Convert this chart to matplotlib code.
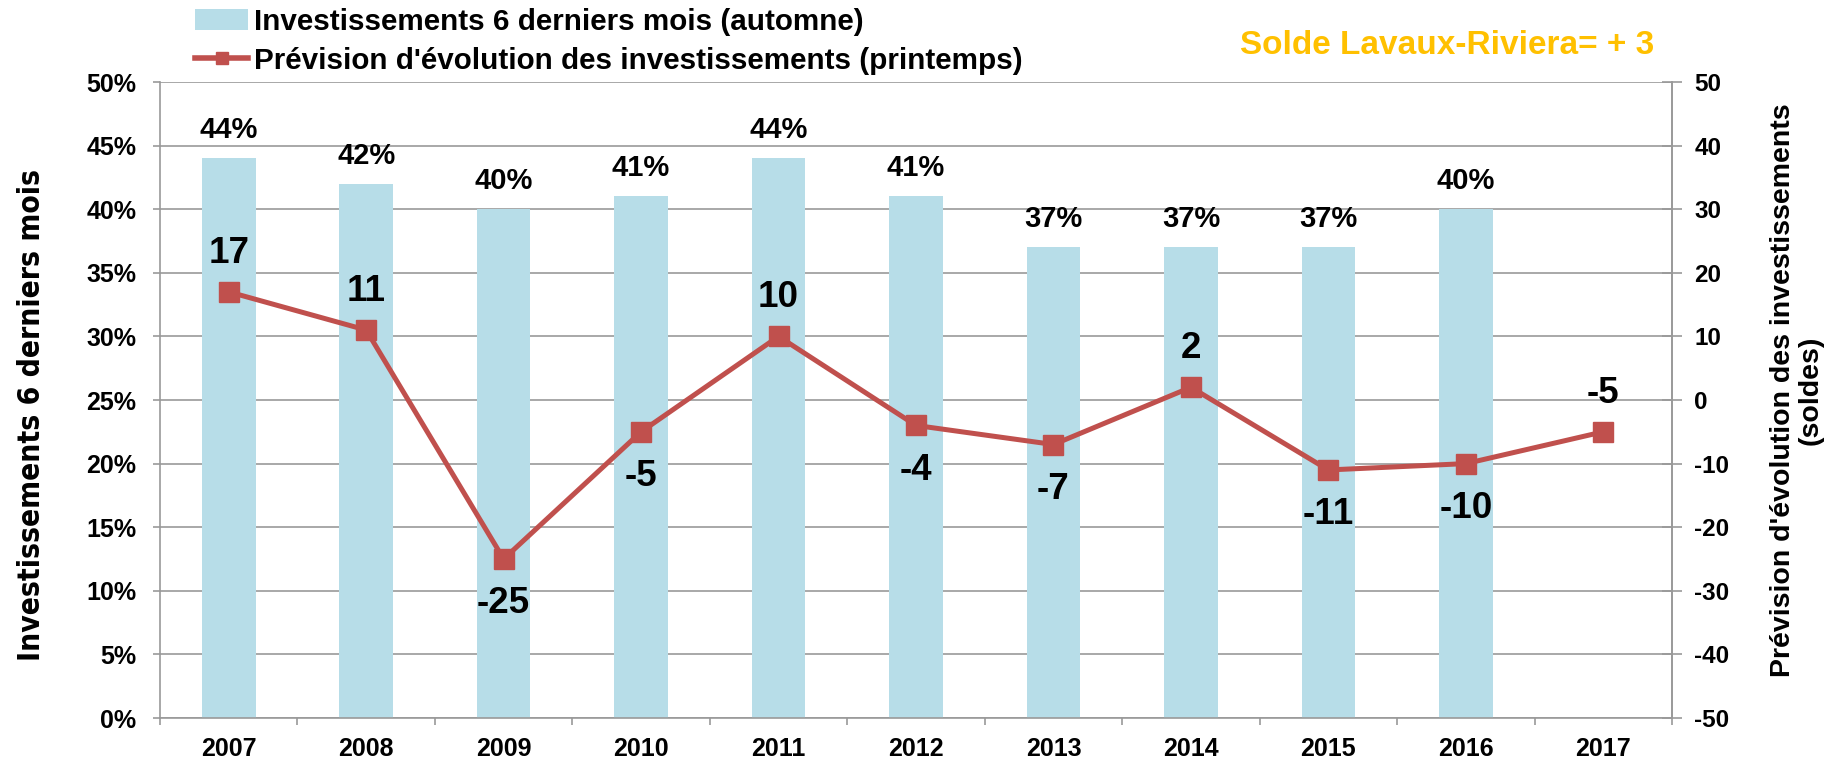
import matplotlib
matplotlib.use("Agg")
import matplotlib.pyplot as plt
from matplotlib import font_manager
from matplotlib.lines import Line2D
from matplotlib.patches import Patch
from matplotlib.ticker import FixedLocator, FuncFormatter
import numpy as np

plt.rcParams['font.family'] = ['Liberation Sans', 'DejaVu Sans']
plt.rcParams['font.weight'] = 'bold'
plt.rcParams['axes.unicode_minus'] = False

# data
years     = ['2007', '2008', '2009', '2010', '2011', '2012', '2013', '2014', '2015', '2016', '2017']
invest    = [44, 42, 40, 41, 44, 41, 37, 37, 37, 40, None]     # % (autumn)
prevision = [17, 11, -25, -5, 10, -4, -7, 2, -11, -10, -5]     # solde (spring)
lab_above = [True, True, False, False, True, False, False, True, False, False, True]

bar_color  = '#B7DDE8'
line_color = '#C0504D'
grid_color = '#999999'


def narrow_font():
    '''look for a condensed bold face (Arial Narrow look-alike)'''
    fl = font_manager.fontManager.ttflist
    for f in fl:
        if f.name in ('Liberation Sans Narrow', 'Arial Narrow') and f.weight in (700, 'bold'):
            return font_manager.FontProperties(fname=f.fname), True
    for f in fl:
        if f.stretch in ('condensed', 'semi-condensed') and f.weight in (700, 'bold') \
                and f.style == 'normal':
            return font_manager.FontProperties(fname=f.fname), False
    return None, False


nf, real_narrow = narrow_font()

W, H = 1835, 763
fig = plt.figure(figsize=(W/100, H/100), dpi=100)
ax  = fig.add_axes([160/W, 1-718/H, (1672-160)/W, (718-82)/H])

x = np.arange(len(years))

# bars
bx = [i for i, v in zip(x, invest) if v is not None]
bv = [v/100 for v in invest if v is not None]
ax.bar(bx, bv, width=0.39, color=bar_color, zorder=2)
for i, v in zip(bx, bv):
    ax.annotate('%d%%' % round(v*100), (i, v), xytext=(0, 14.4), textcoords='offset points',
                ha='center', va='baseline', fontsize=21, fontweight='bold')

ax.set_xlim(-0.5, len(years)-0.5)
ax.set_ylim(0, 0.5)
ax.set_yticks(np.linspace(0, 0.5, 11))
ax.yaxis.set_major_formatter(FuncFormatter(lambda v, p: '%d%%' % round(v*100)))
ax.grid(axis='y', color=grid_color, lw=1.2, zorder=0)
ax.set_axisbelow(True)

ax.set_xticks(x)
ax.set_xticklabels(years)
ax.xaxis.set_minor_locator(FixedLocator(np.arange(-0.5, len(years), 1.0)))
ax.tick_params(axis='x', which='major', length=0, pad=14, labelsize=18)
ax.tick_params(axis='x', which='minor', length=5, width=1.2, color=grid_color, direction='out')
ax.tick_params(axis='y', length=5, width=1.2, color=grid_color, pad=12, labelsize=18)

ax.spines['top'].set_visible(False)
for s in ['left', 'bottom', 'right']:
    ax.spines[s].set_color(grid_color)
    ax.spines[s].set_linewidth(1.2)

# line on right axis
ax2 = ax.twinx()
ax2.plot(x, prevision, color=line_color, lw=3.6, marker='s', markersize=14, zorder=3)
for i, v, up in zip(x, prevision, lab_above):
    ax2.annotate(str(v), (i, v), xytext=(0, 21 if up else -39), textcoords='offset points',
                 ha='center', va='baseline', fontsize=26.5, fontweight='bold')
ax2.set_ylim(-50, 50)
ax2.set_yticks(np.arange(-50, 51, 10))
ax2.tick_params(axis='y', length=14, width=1.2, color=grid_color, direction='inout',
                pad=9, labelsize=17.5)
for s in ['top', 'left', 'bottom']:
    ax2.spines[s].set_visible(False)
ax2.spines['right'].set_color(grid_color)
ax2.spines['right'].set_linewidth(1.2)

# axis titles
if nf is not None:
    fig.text(32/W, 1-415/H, 'Investissements 6 derniers mois', fontproperties=nf,
             fontsize=25 if real_narrow else 21.5, rotation=90, ha='center', va='center')
else:
    fig.text(32/W, 1-415/H, 'Investissements 6 derniers mois', fontsize=23,
             fontweight='bold', rotation=90, ha='center', va='center')
fig.text(1797/W, 1-390/H, "Prévision d'évolution des investissements\n(soldes)",
         fontsize=20.5, fontweight='bold', rotation=90, ha='center', va='center',
         multialignment='center', linespacing=1.1)

# legend
handles = [Patch(facecolor=bar_color, edgecolor='none'),
           Line2D([], [], color=line_color, lw=4, marker='s', markersize=9)]
labels = ['Investissements 6 derniers mois (automne)',
          "Prévision d'évolution des investissements (printemps)"]
fig.legend(handles, labels, loc='upper left', bbox_to_anchor=(195/W, 1 - 8/H),
           bbox_transform=fig.transFigure, frameon=False,
           prop={'weight': 'bold', 'size': 21.3}, handlelength=1.8, handletextpad=0.2,
           labelspacing=0.36, borderpad=0, borderaxespad=0)

# balance note, top right
if real_narrow:
    fig.text(1654/W, 1-45/H, 'Solde Lavaux-Riviera= + 3', color='#FFC000',
             fontproperties=nf, fontsize=27, ha='right', va='center')
else:
    fig.text(1654/W, 1-45/H, 'Solde Lavaux-Riviera= + 3', color='#FFC000', fontsize=24,
             fontweight='bold', ha='right', va='center')

fig.savefig('out.png', dpi=100)
